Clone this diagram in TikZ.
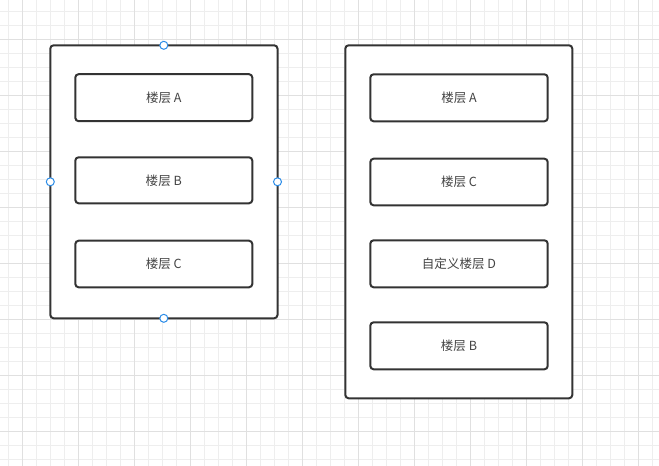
\documentclass[tikz,border=0pt]{standalone}
\usepackage{fontspec}
\newfontfamily\cjk{Noto Sans CJK SC}
\definecolor{gridminor}{HTML}{EEEEEE}
\definecolor{gridmajor}{HTML}{E0E0E0}
\definecolor{edge}{HTML}{333333}
\definecolor{txt}{HTML}{444444}
\definecolor{handle}{HTML}{2B8CE8}
\begin{document}
\begin{tikzpicture}[x=0.75pt,y=-0.75pt,
  outerbox/.style={draw=edge,line width=1.5pt,rounded corners=2.5pt,fill=white},
  floor/.style={draw=edge,line width=1.5pt,rounded corners=2.5pt,fill=white,
    font=\cjk\fontsize{9.4}{11}\selectfont,text=txt},
  handledot/.style={circle,draw=handle,line width=0.75pt,fill=white,inner sep=0pt,minimum size=6pt}]
\useasboundingbox (0,0) rectangle (659,466);
\fill[white] (0,0) rectangle (659,466);
% minor grid
\foreach \i in {0,...,46} {
  \draw[gridminor,line width=0.75pt] ({8.7+14*\i},0) -- ({8.7+14*\i},466);
}
\foreach \j in {0,...,32} {
  \draw[gridminor,line width=0.75pt] (0,{11.3+14*\j}) -- (659,{11.3+14*\j});
}
% major grid
\foreach \i in {0,...,11} {
  \draw[gridmajor,line width=0.75pt] ({22.7+56*\i},0) -- ({22.7+56*\i},466);
}
\foreach \j in {0,...,7} {
  \draw[gridmajor,line width=0.75pt] (0,{39.3+56*\j}) -- (659,{39.3+56*\j});
}
% left container
\draw[outerbox] (50.3,45.3) rectangle (277.5,318.3);
\node[floor,minimum width=177pt*0.75,minimum height=47pt*0.75] (la) at (163.8,97.7) {楼层 A};
\node[floor,minimum width=177pt*0.75,minimum height=46pt*0.75] (lb) at (163.8,180.3) {楼层 B};
\node[floor,minimum width=177pt*0.75,minimum height=46.6pt*0.75] (lc) at (163.8,264) {楼层 C};
% right container
\draw[outerbox] (345.3,45.3) rectangle (572.3,398.3);
\node[floor,minimum width=177.4pt*0.75,minimum height=47pt*0.75] (ra) at (459,97.8) {楼层 A};
\node[floor,minimum width=177.4pt*0.75,minimum height=46.6pt*0.75] (rc) at (459,182) {楼层 C};
\node[floor,minimum width=177.4pt*0.75,minimum height=47pt*0.75] (rd) at (459,263.8) {自定义楼层 D};
\node[floor,minimum width=177.4pt*0.75,minimum height=47pt*0.75] (rb) at (459,345.8) {楼层 B};
% selection handles
\node[handledot] (ht) at (163.8,45.3) {};
\node[handledot] (hb) at (163.8,318.3) {};
\node[handledot] (hl) at (50.3,181.8) {};
\node[handledot] (hr) at (277.5,181.8) {};
\end{tikzpicture}
\end{document}
